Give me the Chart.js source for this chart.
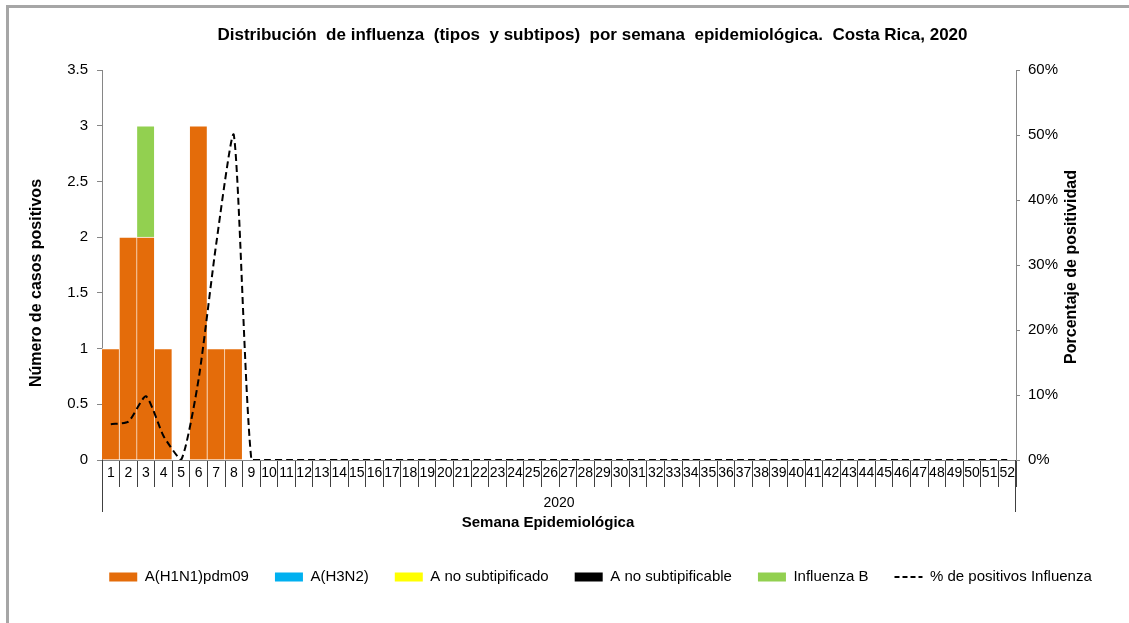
<!doctype html>
<html lang="es">
  <head>
    <meta charset="utf-8">
    <title>Distribución de influenza 2020</title>
    <style>
      * {
        margin: 0;
        padding: 0;
      }
      body {
        background: #fff;
      }
      .chartBox {
        position: relative;
        width: 1129px;
        height: 623px;
      }
    </style>
  </head>
  <body>
    <div class="chartBox">
      <canvas id="myChart"></canvas>
    </div>
    <script src="https://cdn.jsdelivr.net/npm/chart.js/dist/chart.umd.min.js"></script>
    <script>
    // semanas epidemiológicas 2020
    const semanas = ['1','2','3','4','5','6','7','8','9','10','11','12','13','14','15','16','17','18','19','20',
      '21','22','23','24','25','26','27','28','29','30','31','32','33','34','35','36','37','38','39','40',
      '41','42','43','44','45','46','47','48','49','50','51','52'];

    // casos positivos por semana
    const h1n1 = [1,2,2,1,0,3,1,1,0,0,0,0,0,0,0,0,0,0,0,0,0,0,0,0,0,0,0,0,0,0,0,0,0,0,0,0,0,0,0,0,0,0,0,0,0,0,0,0,0,0,0,0];
    const h3n2 = [0,0,0,0,0,0,0,0,0,0,0,0,0,0,0,0,0,0,0,0,0,0,0,0,0,0,0,0,0,0,0,0,0,0,0,0,0,0,0,0,0,0,0,0,0,0,0,0,0,0,0,0];
    const aNoSubtipificado = [0,0,0,0,0,0,0,0,0,0,0,0,0,0,0,0,0,0,0,0,0,0,0,0,0,0,0,0,0,0,0,0,0,0,0,0,0,0,0,0,0,0,0,0,0,0,0,0,0,0,0,0];
    const aNoSubtipificable = [0,0,0,0,0,0,0,0,0,0,0,0,0,0,0,0,0,0,0,0,0,0,0,0,0,0,0,0,0,0,0,0,0,0,0,0,0,0,0,0,0,0,0,0,0,0,0,0,0,0,0,0];
    const influenzaB = [0,0,1,0,0,0,0,0,0,0,0,0,0,0,0,0,0,0,0,0,0,0,0,0,0,0,0,0,0,0,0,0,0,0,0,0,0,0,0,0,0,0,0,0,0,0,0,0,0,0,0,0];

    // % de positivos influenza
    const positividad = [5.5,5.9,9.8,3.7,0,12.5,33.3,50,0,0,0,0,0,0,0,0,0,0,0,0,0,0,0,0,0,0,0,0,0,0,0,0,0,0,0,0,0,0,0,0,0,0,0,0,0,0,0,0,0,0,0,0];

    const ticksCasos = [0, 0.5, 1, 1.5, 2, 2.5, 3, 3.5];
    const ticksPorcentaje = [0, 10, 20, 30, 40, 50, 60];

    Chart.defaults.font.family = "'Liberation Sans', Arial, sans-serif";
    Chart.defaults.color = '#000';

    const ejeGris = '#868686';

    const barra = (label, data, color) => ({
      type: 'bar',
      label: label,
      data: data,
      backgroundColor: color,
      borderColor: '#ffffff',
      borderWidth: {top: 1, right: 1, left: 0, bottom: 0},
      stack: 'casos',
      yAxisID: 'y',
      order: 1,
      barPercentage: 1,
      categoryPercentage: 1
    });

    // marco, títulos de ejes y caja del año
    const marco = {
      id: 'marco',
      afterLayout(chart) {
        chart.titleBlock.left += 28;
        chart.titleBlock.right += 28;
        chart.legend.left += 36;
        chart.legend.right += 36;
        chart.legend.top += 2;
        chart.legend.bottom += 2;
      },
      afterDraw(chart) {
        const {ctx, chartArea: {left, right, top, bottom}} = chart;
        ctx.save();
        ctx.fillStyle = '#a6a6a6';
        ctx.fillRect(6, 5, chart.width - 6, 3);
        ctx.fillRect(6, 5, 3, chart.height - 5);

        ctx.strokeStyle = '#404040';
        ctx.lineWidth = 1;
        ctx.beginPath();
        ctx.moveTo(Math.round(left) + 0.5, bottom);
        ctx.lineTo(Math.round(left) + 0.5, bottom + 52);
        ctx.moveTo(Math.round(right) - 0.5, bottom);
        ctx.lineTo(Math.round(right) - 0.5, bottom + 52);
        ctx.stroke();

        ctx.fillStyle = '#000';
        ctx.textAlign = 'center';
        ctx.textBaseline = 'middle';
        ctx.font = "14px 'Liberation Sans', Arial, sans-serif";
        ctx.fillText('2020', (left + right) / 2, bottom + 43);

        ctx.font = "bold 15px 'Liberation Sans', Arial, sans-serif";
        ctx.fillText('Semana Epidemiológica', 548, bottom + 63);

        ctx.font = "bold 16px 'Liberation Sans', Arial, sans-serif";
        ctx.translate(37, 283);
        ctx.rotate(-Math.PI / 2);
        ctx.fillText('Número de casos positivos', 0, 0);
        ctx.restore();

        ctx.save();
        ctx.fillStyle = '#000';
        ctx.textAlign = 'center';
        ctx.textBaseline = 'middle';
        ctx.font = "bold 16px 'Liberation Sans', Arial, sans-serif";
        ctx.translate(1072, 267);
        ctx.rotate(-Math.PI / 2);
        ctx.fillText('Porcentaje de positividad', 0, 0);
        ctx.restore();
      }
    };

    const data = {
      labels: semanas,
      datasets: [
        barra('A(H1N1)pdm09', h1n1, '#e46c0a'),
        barra('A(H3N2)', h3n2, '#00b0f0'),
        barra('A no subtipificado', aNoSubtipificado, '#ffff00'),
        barra('A no subtipificable', aNoSubtipificable, '#000000'),
        barra('Influenza B', influenzaB, '#92d050'),
        {
          type: 'line',
          label: '% de positivos Influenza',
          data: positividad,
          borderColor: '#000',
          borderWidth: 2,
          borderDash: [7, 4],
          pointRadius: 0,
          tension: 0.2,
          yAxisID: 'y1',
          order: 0
        }
      ]
    };

    const config = {
      type: 'bar',
      data,
      options: {
        responsive: true,
        maintainAspectRatio: false,
        animation: false,
        devicePixelRatio: 1,
        layout: {
          padding: {left: 10, right: 10, top: 0, bottom: 30.5}
        },
        plugins: {
          tooltip: {enabled: false},
          title: {
            display: true,
            text: 'Distribución  de influenza  (tipos  y subtipos)  por semana  epidemiológica.  Costa Rica, 2020',
            color: '#000',
            font: {size: 17, weight: 'bold'},
            padding: {top: 25.5, bottom: 24.1}
          },
          legend: {
            display: true,
            position: 'bottom',
            labels: {
              color: '#000',
              font: {size: 15},
              usePointStyle: true,
              pointStyleWidth: 28,
              boxWidth: 28,
              boxHeight: 9,
              padding: 26,
              generateLabels: (chart) => chart.data.datasets.map((ds, i) => {
                const esLinea = ds.type === 'line';
                return {
                  text: ds.label,
                  fillStyle: esLinea ? 'rgba(0,0,0,0)' : ds.backgroundColor,
                  strokeStyle: '#000',
                  lineWidth: esLinea ? 2 : 0,
                  lineDash: esLinea ? [5, 3] : [],
                  pointStyle: esLinea ? 'line' : 'rect',
                  fontColor: '#000',
                  hidden: false,
                  datasetIndex: i
                };
              })
            }
          }
        },
        scales: {
          x: {
            stacked: true,
            offset: true,
            grid: {
              offset: true,
              drawOnChartArea: false,
              tickLength: 27,
              color: '#404040'
            },
            border: {color: ejeGris},
            ticks: {
              autoSkip: false,
              maxRotation: 0,
              padding: -22,
              font: {size: 14}
            },
            afterFit: (scale) => { scale.height = 81.5; }
          },
          y: {
            stacked: true,
            position: 'left',
            min: 0,
            max: 3.5,
            grid: {
              drawOnChartArea: false,
              tickLength: 5,
              color: ejeGris
            },
            border: {color: ejeGris},
            afterBuildTicks: (scale) => { scale.ticks = ticksCasos.map(v => ({value: v})); },
            ticks: {
              padding: 9,
              font: {size: 15},
              callback: (v) => String(v)
            },
            afterFit: (scale) => { scale.width = 92; }
          },
          y1: {
            position: 'right',
            min: 0,
            max: 60,
            grid: {
              drawOnChartArea: false,
              tickLength: 4,
              color: ejeGris
            },
            border: {color: ejeGris},
            afterBuildTicks: (scale) => { scale.ticks = ticksPorcentaje.map(v => ({value: v})); },
            ticks: {
              padding: 8,
              font: {size: 15},
              callback: (v) => v + '%'
            },
            afterFit: (scale) => { scale.width = 103; }
          }
        }
      },
      plugins: [marco]
    };

    const myChart = new Chart(document.getElementById('myChart'), config);
    </script>
  </body>
</html>
